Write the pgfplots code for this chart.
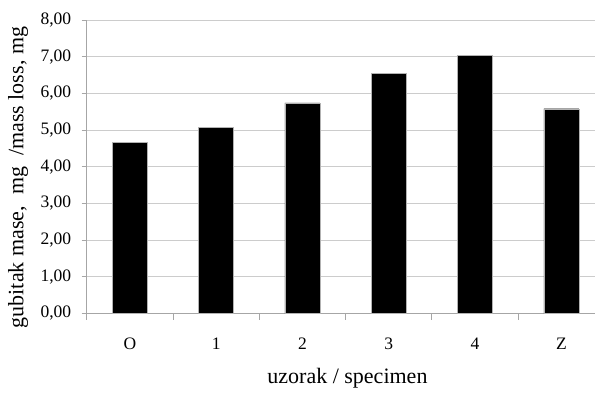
\documentclass[border=0pt]{standalone}
\usepackage{pgfplots}
\pgfplotsset{compat=1.18}
\usepackage{fontspec}
\setmainfont{Liberation Serif}
\begin{document}
\begin{tikzpicture}
\useasboundingbox (-86.7pt,-79.7pt) rectangle (508.3pt,313.3pt);
\begin{axis}[at={(0,0)}, anchor=south west, scale only axis,
  width=508.3pt, height=293.3pt,
  xmin=-0.5, xmax=5.39, ymin=0, ymax=8,
  axis x line*=bottom, axis y line*=left,
  axis line style={gray!70, line width=0.8pt},
  ytick={0,...,8}, ymajorgrids, grid style={gray!40, line width=0.9pt},
  xtick={0,...,5}, xticklabels={O,1,2,3,4,Z},
  major x tick style={draw=none},
  minor xtick={-0.5,0.5,1.5,2.5,3.5,4.5},
  tick align=outside, xtick pos=bottom, ytick pos=left,
  major tick length=5pt, minor tick length=6.5pt,
  tick style={gray!70, line width=0.8pt},
  /pgf/number format/fixed, /pgf/number format/fixed zerofill,
  /pgf/number format/precision=2, /pgf/number format/use comma,
  /pgf/number format/assume math mode=true,
  ticklabel style={font=\fontsize{17.5}{20}\selectfont},
  xticklabel style={yshift=-16pt},
  yticklabel style={xshift=-7pt},
  xlabel={uzorak / specimen},
  ylabel={gubitak mase,\ \ mg\ \ /mass loss, mg},
  label style={font=\fontsize{22}{26}\selectfont},
  xlabel style={at={(axis description cs:0.513,-0.22)}, anchor=center},
  ylabel style={at={(axis description cs:-0.135,0.463)}, anchor=center},
]
\addplot[ybar, bar width=35pt, fill=black, draw=gray!60] coordinates {(0,4.66) (1,5.07) (2,5.74) (3,6.54) (4,7.04) (5,5.58)};
\end{axis}
\end{tikzpicture}
\end{document}
